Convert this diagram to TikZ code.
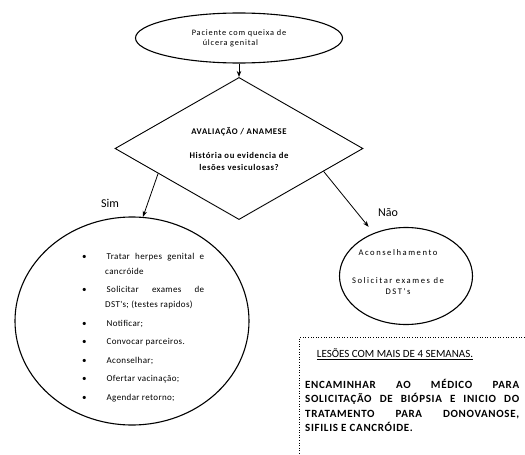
\documentclass[tikz,border=0pt]{standalone}
\usepackage{fontspec}
\setmainfont{Carlito}
\newfontfamily\fA[LetterSpace=10]{Carlito}
\newfontfamily\fE[LetterSpace=7]{Carlito}
\newfontfamily\fB[LetterSpace=18]{Carlito}
\newfontfamily\fC[LetterSpace=4]{Carlito}
\newfontfamily\fD[LetterSpace=6]{Carlito}
\usetikzlibrary{shapes.geometric,arrows.meta,calc}
\begin{document}
\begin{tikzpicture}[x=1pt,y=-1pt,
  shp/.style={draw, line width=1.1pt, inner sep=0pt},
  arr/.style={-{Stealth[length=6pt,width=4.5pt]}, line width=0.8pt},
  lbl/.style={font=\fontsize{12}{14}\selectfont, inner sep=0pt}]
\useasboundingbox (0,0) rectangle (525,455);
% start
\node[shp, ellipse, minimum width=207pt, minimum height=50pt, align=left,
  font=\fA\fontsize{8.3}{10}\selectfont] (top) at (239,38)
  {Paciente com queixa de\\\hspace*{11pt}úlcera genital};
% decision
\node[shp, diamond, line width=0.9pt, minimum width=248pt, minimum height=117pt, align=center,
  font=\fE\bfseries\fontsize{8.7}{12}\selectfont] (d) at (239,148.5)
  {AVALIAÇÃO / ANAMESE\\[12pt]História ou evidencia de\\lesões vesiculosas?};
% yes branch
\node[shp, ellipse, minimum width=234pt, minimum height=208pt] (big) at (132,321) {};
\node[anchor=north west, inner sep=0pt, font=\fC\fontsize{9}{15}\selectfont] (list) at (82,253)
{\begin{minipage}{122pt}
\begin{list}{\textbullet}{\setlength\leftmargin{23pt}\setlength\labelwidth{3pt}%
 \setlength\labelsep{20pt}\setlength\itemsep{3.5pt}\setlength\parsep{0pt}%
 \setlength\topsep{0pt}\setlength\partopsep{0pt}}
\item Tratar herpes genital e\linebreak cancróide
\item Solicitar exames de\linebreak DST's; (testes rapidos)
\item Notificar;
\item Convocar parceiros.
\item Aconselhar;
\item Ofertar vacinação;
\item Agendar retorno;
\end{list}
\end{minipage}};
% no branch
\node[shp, ellipse, minimum width=133pt, minimum height=97pt] (r) at (406,276) {};
\node[align=center, inner sep=0pt, font=\fB\fontsize{8.6}{11}\selectfont] (rtext) at (398,272)
  {Aconselhamento\\[17pt]Solicitar exames de\\DST's};
% labels
\node[lbl] (sim) at (110,203) {Sim};
\node[lbl] (nao) at (388,213) {Não};
% note box
\begin{scope}
\clip (0,0) rectangle (525,455);
\node[draw, dotted, line width=0.6pt, anchor=north west, minimum width=241pt, minimum height=133pt] (box) at (299,337) {};
\end{scope}
\node[inner sep=0pt, font=\fontsize{11}{13}\selectfont] (head) at (395,354)
  {\underline{LESÕES COM MAIS DE 4 SEMANAS.}};
\node[anchor=north west, inner sep=0pt, font=\fD\bfseries\fontsize{11}{14.3}\selectfont] (body) at (305,379)
{\begin{minipage}{214pt}
ENCAMINHAR AO MÉDICO PARA\linebreak
SOLICITAÇÃO DE BIÓPSIA E INICIO DO\linebreak
TRATAMENTO PARA DONOVANOSE,\linebreak
SIFILIS E CANCRÓIDE.
\end{minipage}};
% connectors
\draw[arr] (top.south) -- (d.north);
\draw[arr] ($(d.west)!0.35!(d.south)$) -- (big.84);
\draw[arr, shorten >=8pt] ($(d.east)!0.32!(d.south)$) -- (r.127);
\end{tikzpicture}
\end{document}
